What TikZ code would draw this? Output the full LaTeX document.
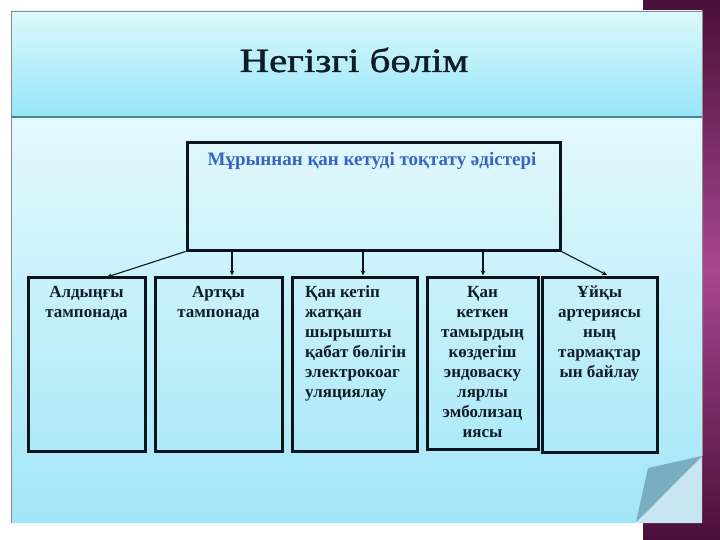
\documentclass[tikz,border=0pt]{standalone}
\usepackage{fontspec}
\setmainfont{Liberation Serif}
\newfontfamily\titlefont[FakeBold=1.2]{Liberation Serif}
\usetikzlibrary{arrows.meta}
\definecolor{purpdark}{HTML}{4A0F3A}
\definecolor{purplight}{HTML}{A8468E}
\definecolor{headtop}{HTML}{DCF8FC}
\definecolor{headbot}{HTML}{96E6F8}
\definecolor{bodytop}{HTML}{E4F9FD}
\definecolor{bodybot}{HTML}{A2E6F7}
\definecolor{flap}{HTML}{78AEC0}
\definecolor{backpage}{HTML}{C8E6F0}
\definecolor{ink}{HTML}{0E1C28}
\definecolor{blueink}{HTML}{3563C9}
\definecolor{edge}{HTML}{0A141C}
\tikzset{
  boxnode/.style={draw=edge, line width=3pt, inner sep=0pt},
  boxtext/.style={font=\bfseries\fontsize{17}{20}\selectfont, text=ink, anchor=north, inner sep=0pt},
  conn/.style={draw=edge, line width=1.1pt, -{Stealth[length=5pt,width=4.5pt]}}
}
\begin{document}
\begin{tikzpicture}[x=1pt,y=-1pt]
\useasboundingbox (0,0) rectangle (720,540);
\fill[white] (0,0) rectangle (720,540);
% purple strip
\shade[top color=purpdark, bottom color=purplight] (643,0) rectangle (720,270);
\shade[top color=purplight, bottom color=purpdark] (643,270) rectangle (720,540);
% panel header
\shade[top color=headtop, bottom color=headbot] (11,11) rectangle (702,117);
% panel body
\shade[top color=bodytop, bottom color=bodybot] (11,117) -- (702,117) -- (702,456) -- (636,523) -- (11,523) -- cycle;
\fill[backpage] (636,523) -- (702,456) -- (702,523) -- cycle;
\fill[flap] (636,522) -- (648,468) -- (702,456) -- cycle;
\draw[color=black!45, line width=0.6pt] (11,523) -- (11,11) -- (702,11);
\draw[color=black!45, line width=0.6pt] (702,11) -- (702,456);
\draw[color={rgb,255:red,80;green,130;blue,145}, line width=2pt] (11,117) -- (702,117);
% title
\node[anchor=base, xscale=1.2, font=\titlefont\fontsize{34}{40}\selectfont, text=ink] (title) at (354,72) {Негізгі бөлім};
% top box
\node[boxnode, minimum width=373pt, minimum height=107pt] (top) at (373.5,196.5) {};
\node[anchor=base, font=\bfseries\fontsize{19}{22}\selectfont, text=blueink, inner sep=0pt] (toptext) at (372,166) {Мұрыннан қан кетуді тоқтату әдістері};
% bottom boxes
\node[boxnode, minimum width=117pt, minimum height=174pt] (b1) at (86.5,364) {};
\node[boxnode, minimum width=127pt, minimum height=174pt] (b2) at (218.5,364) {};
\node[boxnode, minimum width=125pt, minimum height=174pt] (b3) at (354.5,364) {};
\node[boxnode, minimum width=111pt, minimum height=172pt] (b4) at (482.5,363) {};
\node[boxnode, minimum width=115pt, minimum height=175pt] (b5) at (599.5,364.5) {};
% texts
\node[boxtext, align=center] (t1) at (86.5,286) {Алдыңғы\\тампонада};
\node[boxtext, align=center] (t2) at (218.5,286) {Артқы\\тампонада};
\node[boxtext, align=left, anchor=north west] (t3) at (305,286) {Қан кетіп\\жатқан\\шырышты\\қабат бөлігін\\электрокоаг\\уляциялау};
\node[boxtext, align=center] (t4) at (482.5,286) {Қан\\кеткен\\тамырдың\\көздегіш\\эндоваску\\лярлы\\эмболизац\\иясы};
\node[boxtext, align=center] (t5) at (599.5,286) {Ұйқы\\артериясы\\ның\\тармақтар\\ын байлау};
% connectors
\coordinate (a2) at (232,0);
\coordinate (a3) at (363,0);
\coordinate (a4) at (483,0);
\coordinate (e1) at (107,277);
\coordinate (e5) at (607,275);
\draw[conn] (top.south west) -- (e1);
\draw[conn] (top.south -| a2) -- (a2 |- b2.north);
\draw[conn] (top.south -| a3) -- (a3 |- b3.north);
\draw[conn] (top.south -| a4) -- (a4 |- b4.north);
\draw[conn] (top.south east) -- (e5);
\end{tikzpicture}
\end{document}
